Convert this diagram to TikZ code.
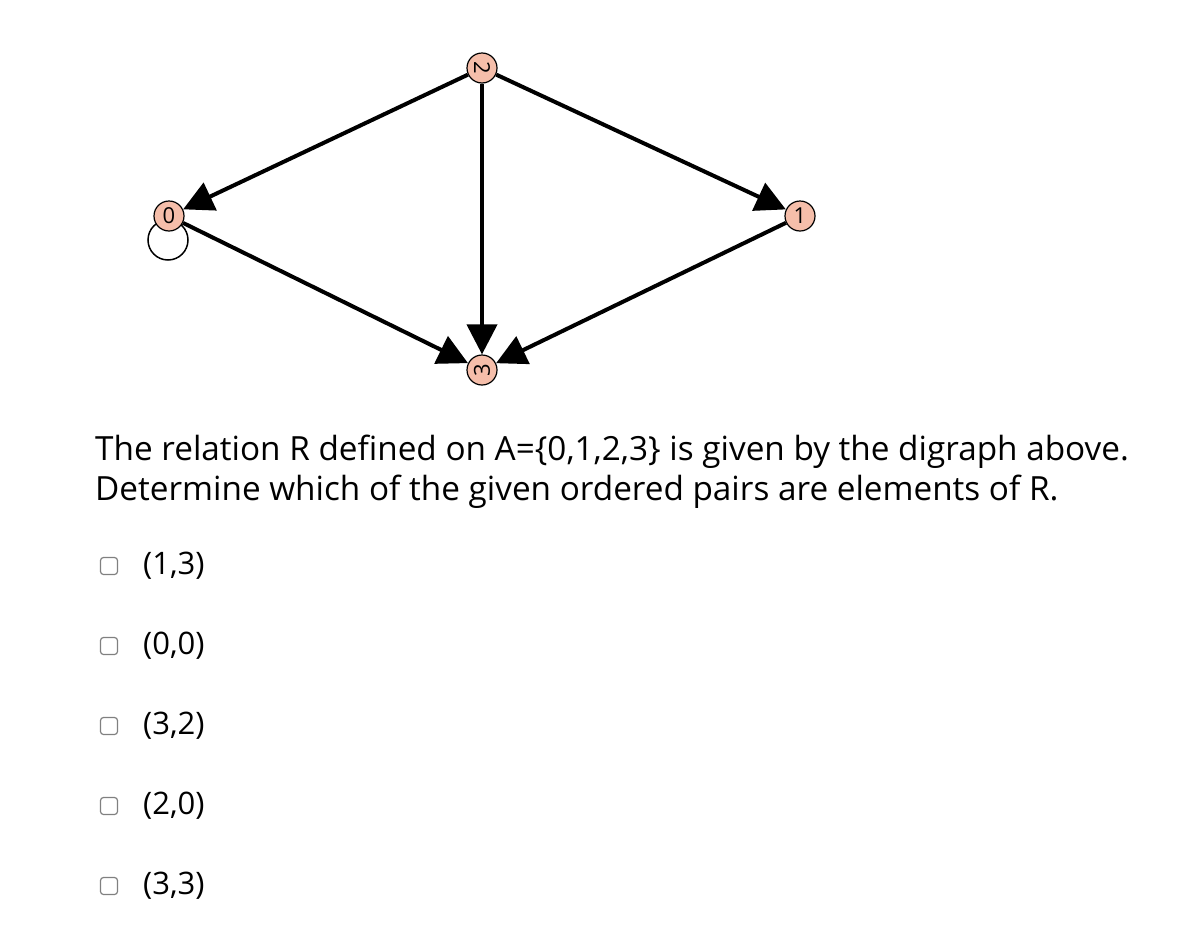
\documentclass[tikz,border=0pt]{standalone}
\usepackage{fontspec}
\setmainfont{Open Sans}
\usetikzlibrary{arrows.meta}
\begin{document}
\begin{tikzpicture}[x=1pt,y=-1pt,
  vtx/.style={circle,draw,line width=1.2pt,fill={rgb,255:red,245;green,190;blue,170},minimum size=30pt,inner sep=0pt,font=\fontsize{22}{22}\selectfont},
  edge/.style={line width=4pt,-{Triangle[length=30pt,width=30pt]}},
  txt/.style={anchor=west,inner sep=0pt,font=\fontsize{33.3}{33}\selectfont},
  ptxt/.style={anchor=west,inner sep=0pt,font=\fontsize{31}{31}\selectfont},
  cbox/.style={draw=gray,line width=1.2pt,rounded corners=3pt,minimum width=17pt,minimum height=17pt,inner sep=0pt}]
\useasboundingbox (0,0) rectangle (1199,937);
\draw[line width=1.5pt] (168,240) circle (20);
\node[vtx] (n0) at (169,216) {0};
\node[vtx] (n1) at (800,216) {1};
\node[vtx] (n2) at (482,68) {\rotatebox{-90}{2}};
\node[vtx] (n3) at (482,370) {\rotatebox{90}{3}};
\draw[edge] (n2) -- (n0);
\draw[edge] (n2) -- (n1);
\draw[edge] (n2) -- (n3);
\draw[edge] (n0) -- (n3);
\draw[edge] (n1) -- (n3);
\node[txt] (t1) at (95,452) {The relation R defined on A=\{0,1,2,3\} is given by the digraph above.};
\node[txt] (t2) at (95,492) {Determine which of the given ordered pairs are elements of R.};
\foreach \y/\l [count=\i] in {566/{(1,3)},646/{(0,0)},726/{(3,2)},806/{(2,0)},886/{(3,3)}}{
  \node[cbox] (c\i) at (109,\y) {};
  \node[ptxt] (o\i) at (143,\y) {\l};
}
\end{tikzpicture}
\end{document}
